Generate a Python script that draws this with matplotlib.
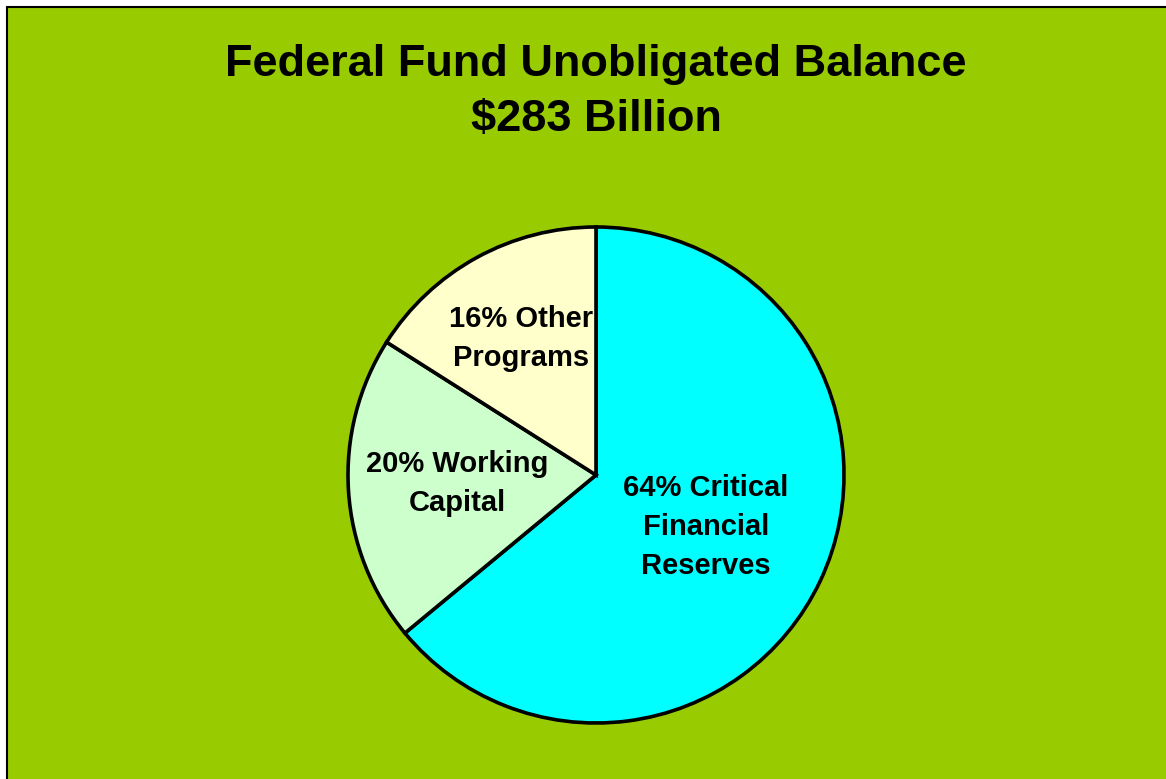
import matplotlib
matplotlib.use('Agg')
import matplotlib.pyplot as plt
from matplotlib.patches import Rectangle
import numpy as np

labels = ['64% Critical\nFinancial\nReserves', '20% Working\nCapital', '16% Other\nPrograms']
values = [64, 20, 16]
colors = ['#00FFFF', '#CCFFCC', '#FFFFCC']
title = 'Federal Fund Unobligated Balance\n$283 Billion'

plt.rcParams['font.family'] = ['Liberation Sans', 'DejaVu Sans']

W, H = 1166, 779
fig = plt.figure(figsize=(W/100, H/100), dpi=100)
fig.patch.set_facecolor('white')

# green background with border on top/left
bg = Rectangle((7/W, -0.01), 1.05, (H-7)/H + 0.01, transform=fig.transFigure,
               facecolor='#99CC00', edgecolor='black', linewidth=1.5, zorder=-10)
fig.patches.append(bg)

fig.text(596/W, 1-92/H, title, ha='center', va='center', fontsize=32.5,
         fontweight='bold', linespacing=1.42)

cx, cy, r = 596, H-475, 248
ax = fig.add_axes([(cx-r)/W, (cy-r)/H, 2*r/W, 2*r/H])
wedges, _ = ax.pie(values, colors=colors, startangle=90, counterclock=False,
                   radius=1, wedgeprops=dict(edgecolor='black', linewidth=2.6))
ax.set_xlim(-1, 1)
ax.set_ylim(-1, 1)
ax.set_aspect('equal')
ax.axis('off')

# label distance from centre for each slice
dist = [0.49, 0.56, 0.63]
for w, lab, d in zip(wedges, labels, dist):
    ang = np.deg2rad((w.theta1 + w.theta2) / 2)
    ax.text(d*np.cos(ang), d*np.sin(ang), lab, ha='center', va='center',
            fontsize=21, fontweight='bold', linespacing=1.5)

fig.savefig('out.png', dpi=100, facecolor=fig.get_facecolor())
